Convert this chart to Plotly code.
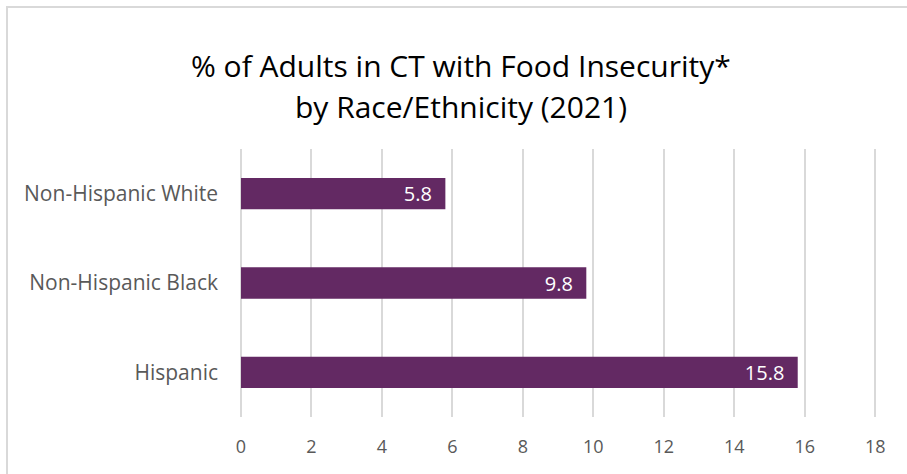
import plotly.graph_objects as go

categories = ["Hispanic", "Non-Hispanic Black", "Non-Hispanic White"]
values = [15.8, 9.8, 5.8]
tick_vals = [0, 2, 4, 6, 8, 10, 12, 14, 16, 18]
title_lines = ["% of Adults in CT with Food Insecurity*", "by Race/Ethnicity (2021)"]

W, H = 907, 474
L, R, T, B = 241, 30, 149, 57
pw, ph = W - L - R, H - T - B
FONT = "Open Sans"

def px_x(p):
    return (p - L) / pw

def px_y(p):
    return 1 - (p - T) / ph

fig = go.Figure(go.Bar(
    y=categories, x=values, orientation="h",
    marker=dict(color="#632963", line=dict(width=0)),
    width=0.35,
    text=[f"{v:.1f}\u00a0\u00a0" for v in values],
    textposition="inside", insidetextanchor="end",
    textfont=dict(color="white", size=20, family=FONT),
    cliponaxis=False,
))

annotations = []
for line, yc in zip(title_lines, [65, 106]):
    annotations.append(dict(
        text=line, xref="paper", yref="paper", x=px_x(461), y=px_y(yc),
        xanchor="center", yanchor="middle", showarrow=False,
        font=dict(family=FONT, size=30, color="#000000"),
    ))

fig.update_layout(
    width=W, height=H,
    margin=dict(l=L, r=R, t=T, b=B),
    paper_bgcolor="white", plot_bgcolor="white",
    showlegend=False,
    annotations=annotations,
    xaxis=dict(
        range=[0, 18.05], tickvals=tick_vals, showgrid=True,
        gridcolor="#D9D9D9", gridwidth=1.5, zeroline=True, zerolinecolor="#D9D9D9",
        zerolinewidth=1.5, showline=False, ticks="",
        tickfont=dict(family=FONT, size=18, color="#595959"),
        ticklabelstandoff=17,
    ),
    yaxis=dict(
        showgrid=False, zeroline=False, showline=False, ticks="",
        tickfont=dict(family=FONT, size=21, color="#595959"),
        ticklabelstandoff=22,
    ),
    uniformtext=dict(minsize=20, mode="show"),
    shapes=[dict(
        type="rect", xref="paper", yref="paper",
        x0=px_x(7), x1=px_x(1000), y0=px_y(7), y1=px_y(1000),
        line=dict(color="#D9D9D9", width=2), layer="below",
    )],
)

fig.write_html("out.html")
